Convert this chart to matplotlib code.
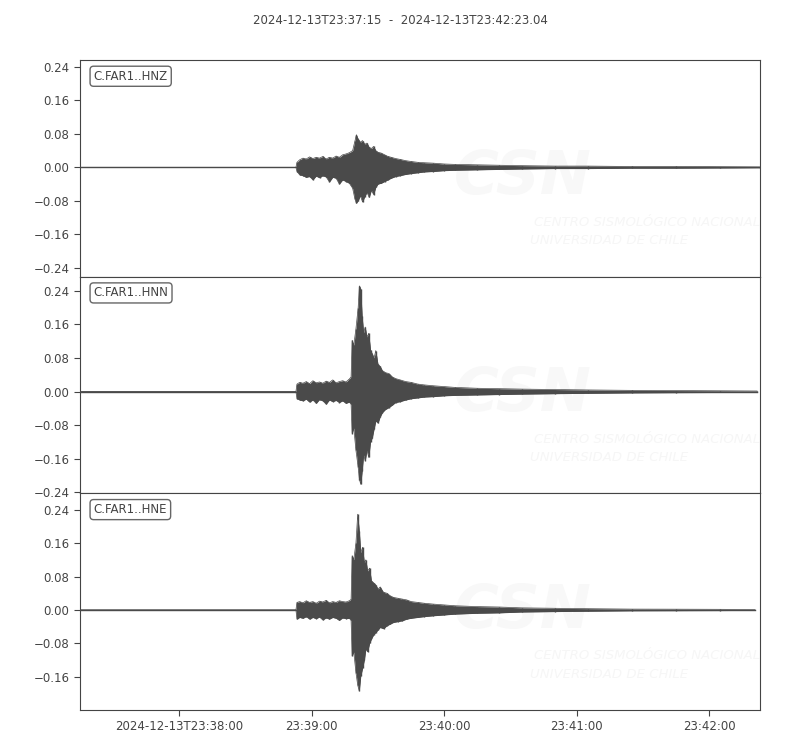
import datetime as dt
import matplotlib
matplotlib.use("Agg")
import matplotlib.pyplot as plt

start = dt.datetime(2024, 12, 13, 23, 37, 15)
end = dt.datetime(2024, 12, 13, 23, 42, 23, 40000)
title = "2024-12-13T23:37:15  -  2024-12-13T23:42:23.04"

# envelope of each trace (seconds after start, upper, lower)
z_t = [0, 97.8, 98.3, 99.5, 101, 102.5, 104, 105.5, 107, 108.5, 110, 111.5, 113, 114.5, 116, 117.5, 119, 120.5, 122, 123.5,
       124.5, 125.2, 126, 127, 128, 129, 130, 131, 132, 133, 134, 135,
       136.5, 138, 139.5, 141, 143, 145, 147.5, 150, 153, 156, 160, 165, 170, 180, 190, 200,
       215, 230, 250, 270, 290, 308]
z_up = [0, 0, 0.012, 0.018, 0.022, 0.020, 0.025, 0.021, 0.024, 0.022, 0.026, 0.020, 0.024, 0.022, 0.027, 0.024, 0.030, 0.032, 0.035, 0.040,
        0.062, 0.078, 0.068, 0.060, 0.064, 0.055, 0.058, 0.048, 0.045, 0.050, 0.040, 0.036,
        0.034, 0.030, 0.026, 0.024, 0.021, 0.019, 0.016, 0.014, 0.012, 0.011, 0.010, 0.008, 0.007, 0.006, 0.005, 0.004,
        0.003, 0.003, 0.002, 0.002, 0.0015, 0.001]
z_lo = [0, 0, -0.010, -0.018, -0.020, -0.024, -0.022, -0.030, -0.021, -0.025, -0.020, -0.023, -0.035, -0.024, -0.026, -0.040, -0.030, -0.034, -0.038, -0.050,
        -0.075, -0.086, -0.080, -0.068, -0.083, -0.070, -0.060, -0.072, -0.055, -0.065, -0.048, -0.040,
        -0.038, -0.034, -0.030, -0.026, -0.022, -0.020, -0.017, -0.015, -0.013, -0.011, -0.010, -0.008, -0.007, -0.006, -0.005, -0.004,
        -0.003, -0.003, -0.002, -0.002, -0.0015, -0.001]

n_t = [0, 97.8, 98.3, 99.5, 101, 102.5, 104, 105.5, 107, 108.5, 110, 111.5, 113, 114.5, 116, 117.5, 119, 120.5,
       122, 122.8, 123.3, 124, 125, 126, 126.6, 127.2, 127.8, 128.5,
       129.2, 130, 130.8, 131.6, 132.4, 133.2, 134, 135, 136, 137,
       138.5, 140, 141.5, 143, 145, 147.5, 150, 153, 156, 160,
       165, 170, 180, 190, 200, 215, 230, 250, 270, 290, 306.7]
n_up = [0, 0, 0.018, 0.022, 0.020, 0.024, 0.019, 0.026, 0.021, 0.023, 0.020, 0.025, 0.022, 0.028, 0.021, 0.024, 0.026, 0.023,
        0.030, 0.035, 0.122, 0.110, 0.150, 0.200, 0.252, 0.245, 0.180, 0.140,
        0.154, 0.130, 0.139, 0.100, 0.090, 0.080, 0.098, 0.065, 0.060, 0.050,
        0.045, 0.043, 0.035, 0.031, 0.028, 0.024, 0.022, 0.018, 0.016, 0.014,
        0.012, 0.010, 0.008, 0.007, 0.006, 0.005, 0.004, 0.003, 0.0025, 0.002, 0.0015]
n_lo = [0, 0, -0.017, -0.020, -0.022, -0.018, -0.025, -0.020, -0.028, -0.019, -0.022, -0.030, -0.020, -0.024, -0.021, -0.026, -0.022, -0.028,
        -0.025, -0.030, -0.100, -0.086, -0.140, -0.180, -0.210, -0.221, -0.190, -0.150,
        -0.165, -0.140, -0.157, -0.120, -0.110, -0.090, -0.070, -0.075, -0.060, -0.050,
        -0.042, -0.038, -0.032, -0.026, -0.024, -0.020, -0.017, -0.015, -0.013, -0.012,
        -0.010, -0.009, -0.008, -0.007, -0.006, -0.005, -0.004, -0.003, -0.0025, -0.002, -0.0015]

e_t = [0, 97.8, 98.3, 99.5, 101, 102.5, 104, 105.5, 107, 108.5, 110, 111.5, 113, 114.5, 116, 117.5, 119, 120.5,
       122, 122.8, 123.3, 124, 125, 125.8, 126.5, 127.2, 128, 128.8,
       129.5, 130.3, 131.2, 132, 133, 134, 135, 136, 137.5, 139,
       140.5, 142, 144, 146, 148, 150, 153, 156, 160, 165,
       170, 180, 190, 200, 215, 230, 250, 270, 290, 305.8]
e_up = [0, 0, 0.018, 0.020, 0.017, 0.022, 0.018, 0.020, 0.016, 0.021, 0.019, 0.023, 0.017, 0.020, 0.018, 0.022, 0.020, 0.019,
        0.022, 0.025, 0.130, 0.120, 0.160, 0.229, 0.190, 0.137, 0.150, 0.113,
        0.120, 0.093, 0.100, 0.070, 0.065, 0.060, 0.050, 0.055, 0.042, 0.040,
        0.034, 0.030, 0.028, 0.026, 0.024, 0.020, 0.018, 0.016, 0.014, 0.012,
        0.010, 0.008, 0.007, 0.005, 0.004, 0.003, 0.002, 0.0018, 0.0015, 0.001]
e_lo = [0, 0, -0.022, -0.018, -0.020, -0.016, -0.022, -0.018, -0.021, -0.017, -0.024, -0.019, -0.022, -0.018, -0.020, -0.025, -0.019, -0.021,
        -0.020, -0.025, -0.110, -0.100, -0.150, -0.180, -0.194, -0.158, -0.140, -0.120,
        -0.094, -0.100, -0.080, -0.070, -0.060, -0.054, -0.048, -0.042, -0.045, -0.038,
        -0.034, -0.030, -0.028, -0.026, -0.022, -0.020, -0.018, -0.016, -0.014, -0.012,
        -0.010, -0.008, -0.007, -0.005, -0.004, -0.003, -0.002, -0.0018, -0.0015, -0.001]

labels = ["C.FAR1..HNZ", "C.FAR1..HNN", "C.FAR1..HNE"]
ylims = [(-0.2615, 0.2567), (-0.2425, 0.274), (-0.2395, 0.279)]
yticks = [-0.24, -0.16, -0.08, 0.0, 0.08, 0.16, 0.24]
xtick_times = [dt.datetime(2024, 12, 13, 23, m, 0) for m in range(38, 43)]
xtick_labels = ["2024-12-13T23:38:00", "23:39:00", "23:40:00", "23:41:00", "23:42:00"]

col = "#4a4a4a"
txt = "#444444"
plt.rcParams["font.family"] = "DejaVu Sans"

fig, axes = plt.subplots(3, 1, figsize=(8, 7.5), dpi=100, sharex=True)
fig.subplots_adjust(left=0.1, right=0.95, top=0.92, bottom=0.0533, hspace=0)
fig.text(0.5, 0.973, title, ha="center", va="center", fontsize=8.5, color=txt)

traces = [(z_t, z_up, z_lo), (n_t, n_up, n_lo), (e_t, e_up, e_lo)]
for ax, (t, up, lo), lab, yl in zip(axes, traces, labels, ylims):
    x = [start + dt.timedelta(seconds=s) for s in t]
    # faint CSN watermark
    ax.text(0.55, 0.32, "CSN", transform=ax.transAxes, fontsize=44, fontweight="bold",
            style="italic", color="#f8f8f8", ha="left", va="bottom", zorder=0)
    ax.text(0.667, 0.25, "CENTRO SISMOLÓGICO NACIONAL", transform=ax.transAxes, fontsize=9.5,
            style="italic", color="#f6f6f6", ha="left", va="center", zorder=0)
    ax.text(0.662, 0.165, "UNIVERSIDAD DE CHILE", transform=ax.transAxes, fontsize=9.5,
            style="italic", color="#f6f6f6", ha="left", va="center", zorder=0)
    ax.fill_between(x, lo, up, color=col, lw=0, zorder=2)
    ax.vlines(x, lo, up, color=col, lw=1, zorder=3)
    ax.plot(x, up, color=col, lw=0.5, zorder=3)
    ax.plot(x, lo, color=col, lw=0.5, zorder=3)
    ax.plot([x[0], x[-1]], [0, 0], color=col, lw=1, zorder=3)
    ax.set_ylim(*yl)
    ax.set_yticks([v for v in yticks if yl[0] <= v <= yl[1]])
    ax.yaxis.set_major_formatter(plt.FuncFormatter(lambda v, p: f"{v:.2f}".replace("-", "\u2212")))
    ax.text(0.02, 0.955, lab, transform=ax.transAxes, fontsize=8.5, color=txt, va="top", ha="left",
            bbox=dict(boxstyle="round,pad=0.3", fc="white", ec="#666666", lw=1))
    ax.tick_params(colors=txt, labelsize=8.5, length=4)
    for s in ax.spines.values():
        s.set_color("#444444")

axes[-1].set_xlim(start, end)
axes[-1].set_xticks(xtick_times)
axes[-1].set_xticklabels(xtick_labels)
for ax in axes[:-1]:
    ax.tick_params(axis="x", length=0)

fig.savefig("out.png", dpi=100)
